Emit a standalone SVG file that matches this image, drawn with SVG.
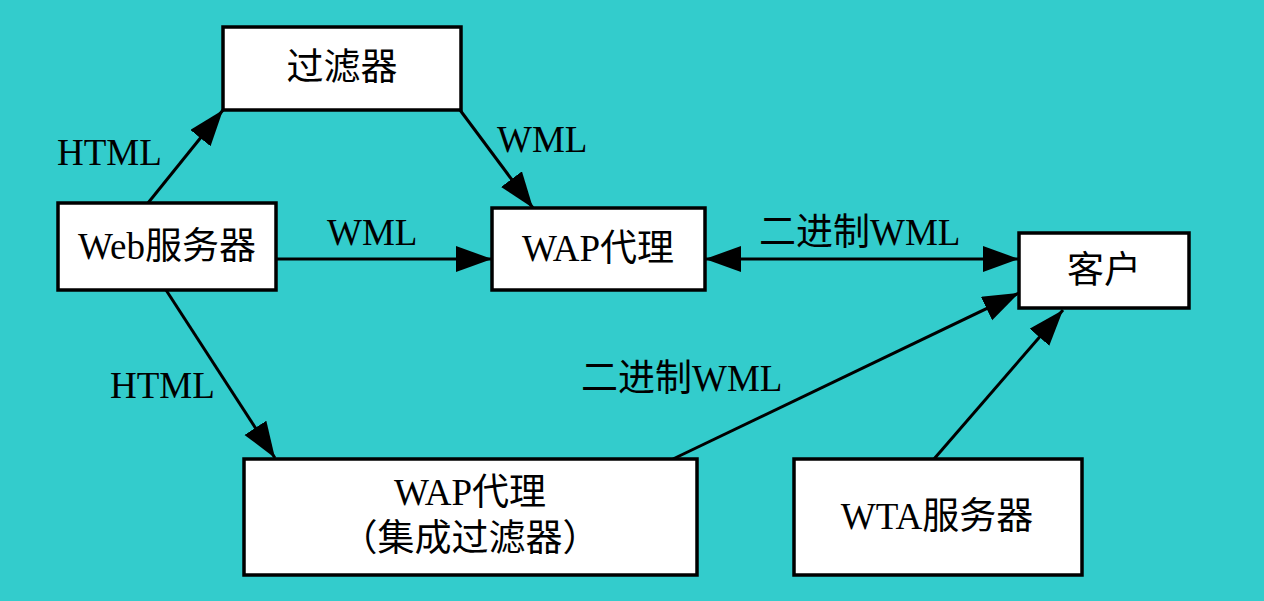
<svg xmlns="http://www.w3.org/2000/svg" width="1264" height="601" viewBox="0 0 1264 601">
<defs>
<style>
.box{fill:#ffffff;stroke:#000000;stroke-width:3.5}
.t{font-family:"Liberation Serif","Noto Sans CJK SC",serif;font-size:37px;fill:#000000}
.c{text-anchor:middle}
.ln{stroke:#000000;stroke-width:3;fill:none}
</style>
<marker id="ah" markerUnits="userSpaceOnUse" markerWidth="38" markerHeight="28" refX="36" refY="13" orient="auto-start-reverse">
<path d="M0,0 L36,13 L0,26 Z" fill="#000000"/>
</marker>
</defs>
<rect width="1264" height="601" fill="#33CCCC"/>
<g id="connectors">
<line class="ln" x1="148" y1="203" x2="223" y2="110" marker-end="url(#ah)"/>
<line class="ln" x1="460" y1="110" x2="533" y2="208" marker-end="url(#ah)"/>
<line class="ln" x1="276" y1="259" x2="492" y2="259" marker-end="url(#ah)"/>
<line class="ln" x1="705" y1="259" x2="1019" y2="259" marker-start="url(#ah)" marker-end="url(#ah)"/>
<line class="ln" x1="166" y1="290" x2="275" y2="458" marker-end="url(#ah)"/>
<line class="ln" x1="673" y1="459" x2="1019" y2="293" marker-end="url(#ah)"/>
<line class="ln" x1="934" y1="459" x2="1063" y2="310" marker-end="url(#ah)"/>
<text class="t" x="57" y="165">HTML</text>
<text class="t" x="497" y="152">WML</text>
<text class="t" x="327" y="245">WML</text>
<text class="t" x="759" y="245">二进制WML</text>
<text class="t" x="110" y="398">HTML</text>
<text class="t" x="581" y="391">二进制WML</text>
</g>
<g id="filter">
<rect class="box" x="223" y="27" width="238" height="83"/>
<text class="t c" x="342" y="80">过滤器</text>
</g>
<g id="webserver">
<rect class="box" x="58" y="203" width="218" height="87"/>
<text class="t c" x="167" y="259">Web服务器</text>
</g>
<g id="wapproxy">
<rect class="box" x="492" y="208" width="213" height="82"/>
<text class="t c" x="598" y="261">WAP代理</text>
</g>
<g id="client">
<rect class="box" x="1019" y="233" width="170" height="75"/>
<text class="t c" x="1104" y="283">客户</text>
</g>
<g id="wapproxy2">
<rect class="box" x="244" y="459" width="453" height="116"/>
<text class="t c" x="470" y="505">WAP代理</text>
<text class="t c" x="470" y="551">（集成过滤器）</text>
</g>
<g id="wtaserver">
<rect class="box" x="794" y="459" width="288" height="116"/>
<text class="t c" x="937" y="529">WTA服务器</text>
</g>
</svg>
